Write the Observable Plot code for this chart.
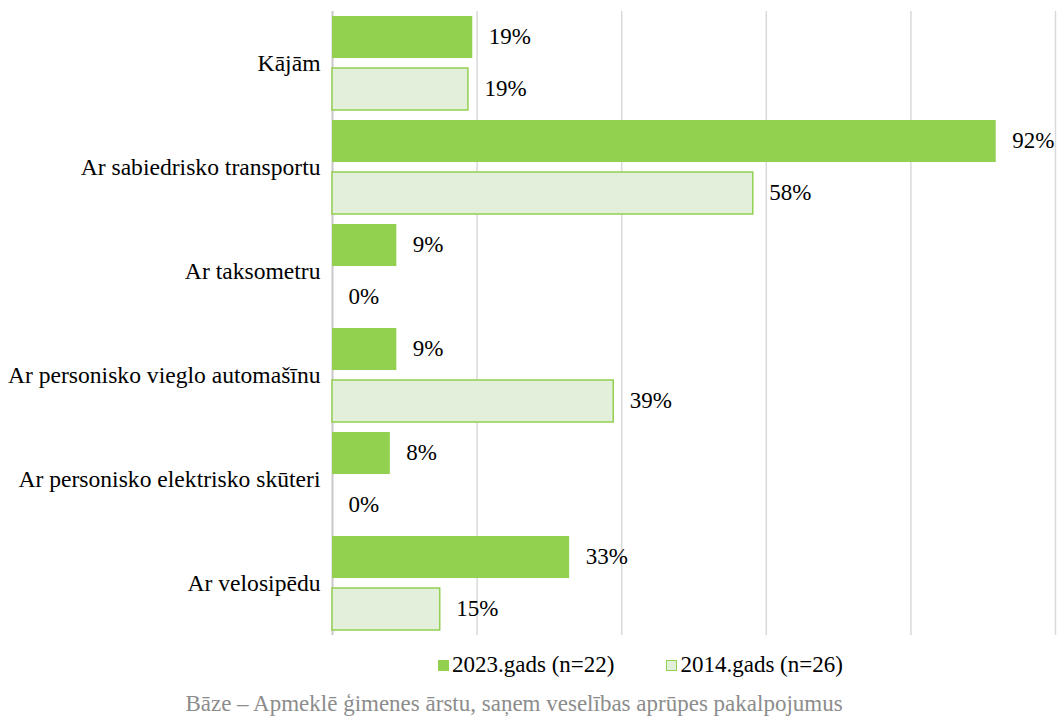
<!DOCTYPE html>
<html>
<head>
<meta charset="utf-8">
<script src="https://cdn.jsdelivr.net/npm/d3@7"></script>
<script src="https://cdn.jsdelivr.net/npm/@observablehq/plot@0.6"></script>
<style>
  body { margin: 0; background: #fff; font-family: "Liberation Serif", Tinos, "Times New Roman", Times, "DejaVu Serif", serif; }
  #wrap { position: relative; width: 1059px; height: 717px; }
  #legend { position: absolute; top: 652px; left: 438px; display: flex; align-items: center; font-size: 23px; line-height: 26px; color: #000; white-space: nowrap; }
  .sw { display: inline-block; width: 11px; height: 11px; margin-right: 3px; box-sizing: border-box; }
  #caption { position: absolute; top: 691px; left: 0; width: 1028px; text-align: center; font-size: 23px; line-height: 26px; color: #8c8c8c; white-space: nowrap; }
  svg text { font-family: "Liberation Serif", Tinos, "Times New Roman", Times, "DejaVu Serif", serif; }
</style>
</head>
<body>
<div id="wrap">
  <div id="chart"></div>
  <div id="legend"></div>
  <div id="caption"></div>
</div>
<script>
const categories = [
  "Kājām",
  "Ar sabiedrisko transportu",
  "Ar taksometru",
  "Ar personisko vieglo automašīnu",
  "Ar personisko elektrisko skūteri",
  "Ar velosipēdu"
];
const seriesNames = ["2023.gads (n=22)", "2014.gads (n=26)"];
const values2023 = [19.4, 91.8, 8.9, 8.9, 8.0, 32.8];
const values2014 = [18.8, 58.2, 0, 38.9, 0, 14.9];
const gridTicks = [0, 20, 40, 60, 80, 100];
const captionText = "Bāze – Apmeklē ģimenes ārstu, saņem veselības aprūpes pakalpojumus";

const data = [];
categories.forEach((c, i) => {
  data.push({cat: c, series: seriesNames[0], value: values2023[i]});
  data.push({cat: c, series: seriesNames[1], value: values2014[i]});
});

const chart = Plot.plot({
  width: 1059,
  height: 645,
  marginLeft: 332,
  marginRight: 4,
  marginTop: 10,
  marginBottom: 10,
  style: {fontSize: "23.6px", color: "#000", background: "#fff", overflow: "visible"},
  x: {domain: [0, 100], axis: null},
  y: {domain: seriesNames, axis: null, paddingInner: 0.2, paddingOuter: 0.1},
  fy: {domain: categories, padding: 0, label: null, tickSize: 0, tickPadding: 12},
  color: {domain: seriesNames, range: ["#92d050", "#e2efda"]},
  marks: [
    Plot.ruleX(gridTicks.filter(d => d > 0), {stroke: "#d9d9d9", strokeWidth: 1.5}),
    Plot.ruleX([0], {stroke: "#c8c8c8", strokeWidth: 2}),
    Plot.barX(data, {
      fy: "cat", y: "series", x: "value",
      fill: "series",
      stroke: d => d.series === seriesNames[1] ? "#92d050" : "none",
      strokeWidth: 1.5
    }),
    Plot.text(data, {
      fy: "cat", y: "series", x: "value",
      text: d => Math.round(d.value) + "%",
      textAnchor: "start", dx: 16, dy: -1, fontSize: 23, fill: "#000"
    })
  ]
});
document.getElementById("chart").appendChild(chart);

const legend = document.getElementById("legend");
seriesNames.forEach((s, i) => {
  const item = document.createElement("span");
  item.style.display = "inline-flex";
  item.style.alignItems = "center";
  item.style.marginRight = i === 0 ? "52px" : "0";
  const sw = document.createElement("span");
  sw.className = "sw";
  sw.style.background = i === 0 ? "#92d050" : "#e2efda";
  if (i === 1) sw.style.border = "1.5px solid #92d050";
  item.appendChild(sw);
  item.appendChild(document.createTextNode(s));
  legend.appendChild(item);
});
document.getElementById("caption").textContent = captionText;
</script>
</body>
</html>
